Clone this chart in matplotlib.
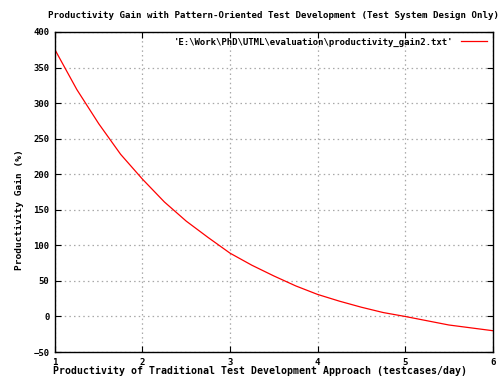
import matplotlib
matplotlib.use("Agg")
import matplotlib.pyplot as plt

# values
prod_trad = [1.0, 1.25, 1.5, 1.75, 2.0, 2.25, 2.5, 2.75, 3.0, 3.25, 3.5,
             3.75, 4.0, 4.25, 4.5, 4.75, 5.0, 5.25, 5.5, 5.75, 6.0]
gain_pct = [375, 319, 271, 228, 193, 161, 134, 111, 89, 72, 57,
            43, 31, 21.5, 13, 5.5, 0, -6, -12, -16, -20]

xticks = [1, 2, 3, 4, 5, 6]
yticks = [-50, 0, 50, 100, 150, 200, 250, 300, 350, 400]

plt.rcParams['font.family'] = ['DejaVu Sans Mono']
plt.rcParams['font.weight'] = 'bold'
plt.rcParams['font.size'] = 6.5

fig = plt.figure(figsize=(5.03, 3.84), dpi=100)
ax = fig.add_axes([0.1093, 0.0833, 0.8700, 0.8334])

ax.plot(prod_trad, gain_pct, color='#ff0000', lw=0.9,
        label="'E:\\Work\\PhD\\UTML\\evaluation\\productivity_gain2.txt'")

ax.set_xlim(1, 6)
ax.set_ylim(-50, 400)
ax.set_xticks(xticks)
ax.set_yticks(yticks)
ax.grid(True, color='#a8a8a8', linestyle=(0, (1.2, 2.5)), lw=0.9)
ax.tick_params(direction='in', top=True, right=True, length=4, width=0.8, pad=4)
for s in ax.spines.values():
    s.set_linewidth(1.0)

ax.set_title('Productivity Gain with Pattern-Oriented Test Development (Test System Design Only)',
             fontsize=6.6, fontweight='bold', pad=10)
ax.set_xlabel('Productivity of Traditional Test Development Approach (testcases/day)',
              fontweight='bold', fontsize=7.1)
ax.set_ylabel('Productivity Gain (%)', fontweight='bold', fontsize=6.8)
ax.xaxis.set_label_coords(0.469, -0.045)
ax.yaxis.set_label_coords(-0.071, 0.444)

ax.legend(loc='upper right', frameon=False, markerfirst=False,
          handlelength=2.9, borderaxespad=0.2, handletextpad=0.8)

fig.savefig('out.png', dpi=100)
